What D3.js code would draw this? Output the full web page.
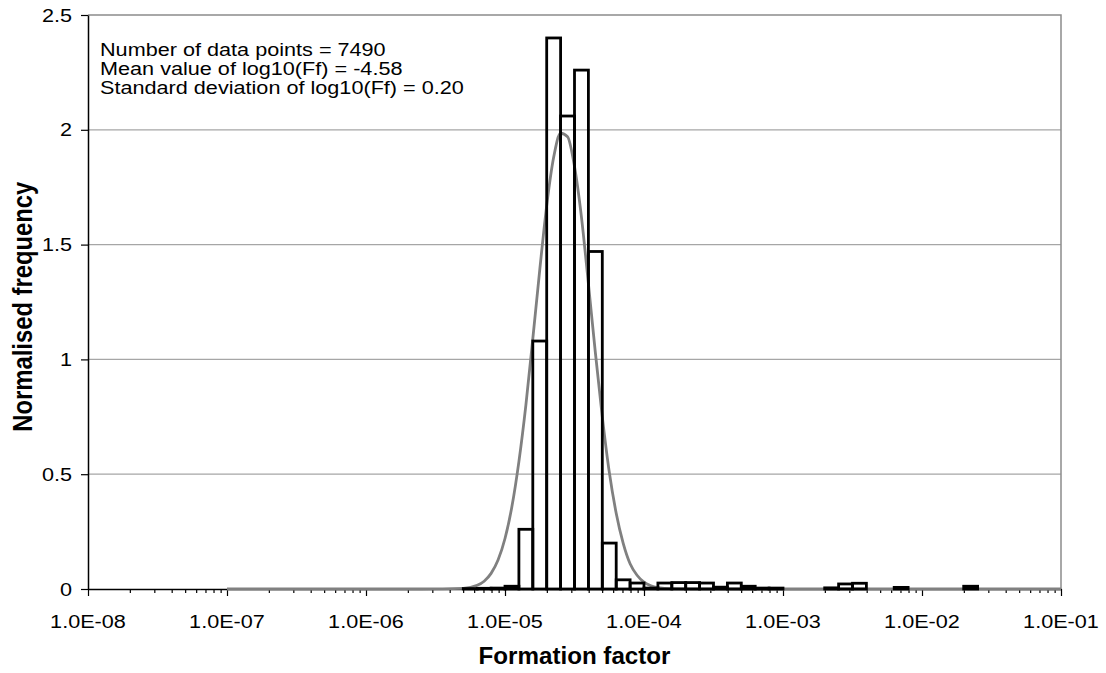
<!DOCTYPE html>
<html>
<head>
<meta charset="utf-8">
<script src="https://cdn.jsdelivr.net/npm/d3@7"></script>
<style>
  html, body { margin: 0; padding: 0; background: #fff; }
  svg { display: block; font-family: "Liberation Sans", Arial, sans-serif; }
</style>
</head>
<body>
<svg id="chart" width="1106" height="673"></svg>
<script>
// Histogram bins: lower edge in log10(Ff), bin width 0.1 decade
const binLowerLog10 = [-5.3, -5.2, -5.1, -5.0, -4.9, -4.8, -4.7, -4.6, -4.5, -4.4,
  -4.3, -4.2, -4.1, -4.0, -3.9, -3.8, -3.7, -3.6, -3.5, -3.4,
  -3.3, -3.2, -3.1, -3.0, -2.9, -2.8, -2.7, -2.6, -2.5, -2.4,
  -2.3, -2.2, -2.1, -2.0, -1.9, -1.8, -1.7, -1.6];
const binFrequency = [0.002, 0.003, 0.004, 0.012, 0.26, 1.08, 2.40, 2.06, 2.26, 1.47,
  0.20, 0.04, 0.026, 0.004, 0.026, 0.028, 0.028, 0.026, 0.008, 0.026,
  0.012, 0.004, 0.004, 0, 0, 0, 0.005, 0.022, 0.025, 0,
  0, 0.007, 0, 0, 0, 0, 0.012, 0];
const binWidthLog10 = 0.1;

// Fitted normal curve of log10(Ff)
const curveLog10 = [-7.0, -6.0, -5.6, -5.3, -5.2, -5.15, -5.1, -5.05, -5.0, -4.95,
  -4.9, -4.85, -4.8, -4.75, -4.7, -4.65, -4.6, -4.55, -4.5, -4.45,
  -4.4, -4.35, -4.3, -4.25, -4.2, -4.15, -4.1, -4.05, -4.0, -3.95,
  -3.9, -3.8, -3.6, -2.0, -1.0];
const curveFrequency = [0, 0, 0, 0.003, 0.016, 0.034, 0.068, 0.126, 0.22, 0.36,
  0.555, 0.80, 1.09, 1.39, 1.67, 1.88, 1.985, 1.97, 1.84, 1.62,
  1.33, 1.03, 0.75, 0.51, 0.33, 0.20, 0.11, 0.06, 0.03, 0.014,
  0.006, 0.001, 0, 0, 0];

const xTickValues = [1e-8, 1e-7, 1e-6, 1e-5, 1e-4, 1e-3, 1e-2, 1e-1];
const xTickLabels = ["1.0E-08", "1.0E-07", "1.0E-06", "1.0E-05", "1.0E-04", "1.0E-03", "1.0E-02", "1.0E-01"];
const yTickValues = [0, 0.5, 1, 1.5, 2, 2.5];
const yTickLabels = ["0", "0.5", "1", "1.5", "2", "2.5"];

const statsLines = [
  "Number of data points = 7490",
  "Mean value of log10(Ff) = -4.58",
  "Standard deviation of log10(Ff) = 0.20"
];
const xTitle = "Formation factor";
const yTitle = "Normalised frequency";

const svg = d3.select("#chart");
const plot = { left: 88, right: 1061, top: 15, bottom: 589 };

const x = d3.scaleLog().domain([1e-8, 1e-1]).range([plot.left, plot.right]);
const y = d3.scaleLinear().domain([0, 2.5]).range([plot.bottom, plot.top]);

// Horizontal gridlines
svg.append("g")
  .selectAll("line")
  .data(yTickValues.filter(v => v > 0 && v < 2.5))
  .join("line")
  .attr("x1", plot.left).attr("x2", plot.right)
  .attr("y1", d => y(d)).attr("y2", d => y(d))
  .attr("stroke", "#a6a6a6").attr("stroke-width", 1.2);

// Top and right frame
svg.append("path")
  .attr("d", `M${plot.left},${y(2.5)}H${plot.right}V${y(0)}`)
  .attr("fill", "none").attr("stroke", "#8c8c8c").attr("stroke-width", 1.5);

// X axis: major and minor log ticks
const minorTicks = x.ticks().filter(v => !xTickValues.some(t => Math.abs(t - v) / t < 1e-9));
const xAxisG = svg.append("g").attr("transform", `translate(0,${y(0)})`);
xAxisG.call(d3.axisBottom(x).tickValues(minorTicks).tickSize(4).tickFormat(""))
  .call(g => g.select(".domain").remove());
xAxisG.append("g").call(d3.axisBottom(x).tickValues(xTickValues).tickSize(7).tickFormat("").tickSizeOuter(0));
xAxisG.selectAll("line").attr("stroke", "#000").attr("stroke-width", 1.2);
xAxisG.selectAll(".domain").attr("stroke", "#000").attr("stroke-width", 1.5);

svg.append("g")
  .selectAll("text")
  .data(xTickValues)
  .join("text")
  .attr("transform", d => `translate(${x(d)},628) scale(1.17,1)`)
  .attr("text-anchor", "middle")
  .attr("font-size", 18.5)
  .attr("fill", "#000")
  .text((d, i) => xTickLabels[i]);

// Y axis
const yAxisG = svg.append("g").attr("transform", `translate(${plot.left},0)`);
yAxisG.call(d3.axisLeft(y).tickValues(yTickValues).tickSize(7).tickSizeOuter(0).tickFormat(""));
yAxisG.selectAll("line").attr("stroke", "#000").attr("stroke-width", 1.2);
yAxisG.select(".domain").attr("stroke", "#000").attr("stroke-width", 1.5);

svg.append("g")
  .selectAll("text")
  .data(yTickValues)
  .join("text")
  .attr("transform", d => `translate(72,${y(d) + 6.6}) scale(1.17,1)`)
  .attr("text-anchor", "end")
  .attr("font-size", 18.5)
  .attr("fill", "#000")
  .text((d, i) => yTickLabels[i]);

// Fitted curve (drawn beneath the histogram outlines)
const curvePoints = curveLog10.map((lg, i) => [Math.pow(10, lg), curveFrequency[i]]);
svg.append("path")
  .datum(curvePoints)
  .attr("fill", "none")
  .attr("stroke", "#808080")
  .attr("stroke-width", 2.8)
  .attr("d", d3.line().x(d => x(d[0])).y(d => y(d[1])).curve(d3.curveMonotoneX));

// Histogram outlines (empty bins are not drawn)
svg.append("g")
  .selectAll("rect")
  .data(binLowerLog10.map((lg, i) => ({ lo: lg, v: binFrequency[i] })).filter(d => d.v > 0))
  .join("rect")
  .attr("x", d => x(Math.pow(10, d.lo)))
  .attr("width", d => x(Math.pow(10, d.lo + binWidthLog10)) - x(Math.pow(10, d.lo)))
  .attr("y", d => y(d.v))
  .attr("height", d => y(0) - y(d.v))
  .attr("fill", "none")
  .attr("stroke", "#000")
  .attr("stroke-width", 2.8);

// Summary statistics
svg.append("g")
  .selectAll("text")
  .data(statsLines)
  .join("text")
  .attr("transform", (d, i) => `translate(100,${55.7 + i * 19}) scale(1.17,1)`)
  .attr("font-size", 18.5)
  .attr("fill", "#000")
  .text(d => d);

// Axis titles
svg.append("text")
  .attr("transform", `translate(${(plot.left + plot.right) / 2},664) scale(1.05,1)`)
  .attr("text-anchor", "middle")
  .attr("font-size", 23)
  .attr("font-weight", "bold")
  .attr("fill", "#000")
  .text(xTitle);

svg.append("text")
  .attr("transform", `translate(31.7,306.7) scale(1.17,1) rotate(-90)`)
  .attr("text-anchor", "middle")
  .attr("font-size", 23.8)
  .attr("font-weight", "bold")
  .attr("fill", "#000")
  .text(yTitle);
</script>
</body>
</html>
